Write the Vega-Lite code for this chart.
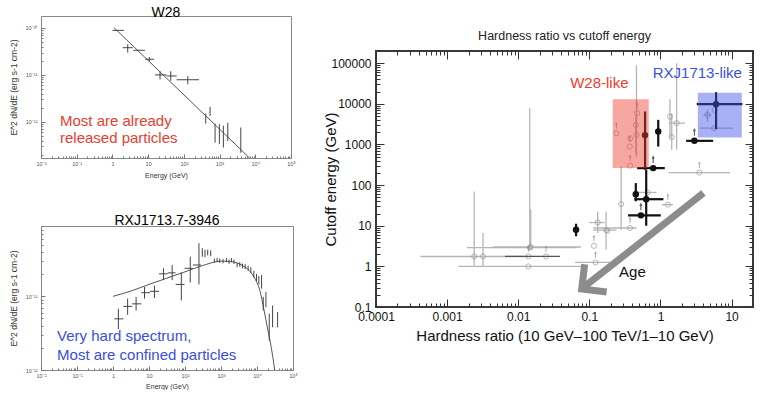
{
  "$schema": "https://vega.github.io/schema/vega-lite/v6.json",
  "background": "white",
  "padding": {"left": 8, "top": 5, "right": 0, "bottom": 0},
  "config": {"font": "Liberation Sans", "title": {"font": "Liberation Sans"}, "axis": {"labelFont": "Liberation Sans", "titleFont": "Liberation Sans"}},
  "datasets": {
    "w28": [
      {"E": 1.37, "F": 8.9e-11, "Elo": 1.0, "Ehi": 2.1},
      {"E": 2.68, "F": 3.8e-11, "Elo": 1.94, "Ehi": 3.7, "Flo": 3.0e-11, "Fhi": 4.5e-11},
      {"E": 5.7, "F": 3.35e-11, "Elo": 3.85, "Ehi": 8.2},
      {"E": 10.8, "F": 2.16e-11, "Elo": 8.2, "Ehi": 14.6, "Flo": 1.95e-11, "Fhi": 2.4e-11},
      {"E": 21.5, "F": 1.0e-11, "Elo": 15.6, "Ehi": 33, "Flo": 8.0e-12, "Fhi": 1.2e-11},
      {"E": 43, "F": 9.5e-12, "Elo": 33, "Ehi": 63, "Flo": 7.5e-12, "Fhi": 1.2e-11},
      {"E": 129, "F": 7.9e-12, "Elo": 63, "Ehi": 265, "Flo": 6.3e-12, "Fhi": 9.4e-12},
      {"E": 410, "F": 1.17e-12, "Flo": 9.2e-13, "Fhi": 1.5e-12},
      {"E": 542, "F": 1.67e-12, "Flo": 1.34e-12, "Fhi": 2.08e-12},
      {"E": 748, "F": 5.8e-13, "Flo": 3.6e-13, "Fhi": 9.2e-13},
      {"E": 988, "F": 5.5e-13, "Flo": 3.4e-13, "Fhi": 8.9e-13},
      {"E": 1277, "F": 4.9e-13, "Flo": 2.84e-13, "Fhi": 8.3e-13},
      {"E": 1700, "F": 6.1e-13, "Flo": 3.9e-13, "Fhi": 9.6e-13},
      {"E": 3930, "F": 4.1e-13, "Flo": 2.2e-13, "Fhi": 7.6e-13}
    ],
    "w28fit": [{"E": 1.1, "F": 1.02e-10}, {"E": 7150, "F": 1.66e-13}],
    "w28txt": [{"E": 0.034, "F": 1.05e-12, "t": "Most are already"}, {"E": 0.034, "F": 4.57e-13, "t": "released particles"}],
    "rxj": [
      {"E": 1.41, "F": 4.95e-12, "Elo": 1.09, "Ehi": 1.94, "Flo": 3.6e-12, "Fhi": 6.8e-12},
      {"E": 2.55, "F": 7.3e-12, "Elo": 1.94, "Ehi": 3.4, "Flo": 5.6e-12, "Fhi": 9.3e-12},
      {"E": 4.38, "F": 7.9e-12, "Elo": 3.4, "Ehi": 6.2, "Flo": 6.4e-12, "Fhi": 9.8e-12},
      {"E": 7.5, "F": 1.12e-11, "Elo": 6.2, "Ehi": 10.7, "Flo": 9.3e-12, "Fhi": 1.34e-11},
      {"E": 14.2, "F": 1.17e-11, "Elo": 10.7, "Ehi": 19, "Flo": 9.5e-12, "Fhi": 1.4e-11},
      {"E": 25.3, "F": 2.02e-11, "Elo": 19, "Ehi": 33, "Flo": 1.66e-11, "Fhi": 2.4e-11},
      {"E": 44, "F": 2.08e-11, "Elo": 33, "Ehi": 55, "Flo": 1.66e-11, "Fhi": 2.66e-11},
      {"E": 79, "F": 1.45e-11, "Elo": 55, "Ehi": 97, "Flo": 8.8e-12, "Fhi": 2.1e-11},
      {"E": 140, "F": 2.4e-11, "Elo": 97, "Ehi": 165, "Flo": 1.54e-11, "Fhi": 3.45e-11},
      {"E": 244, "F": 2.66e-11, "Elo": 165, "Ehi": 280, "Flo": 1.45e-11, "Fhi": 5.26e-11},
      {"E": 303, "F": 3.95e-11, "Flo": 3.45e-11, "Fhi": 4.5e-11},
      {"E": 359, "F": 3.8e-11, "Flo": 3.4e-11, "Fhi": 4.3e-11},
      {"E": 427, "F": 3.95e-11, "Flo": 3.6e-11, "Fhi": 4.3e-11},
      {"E": 517, "F": 3.85e-11, "Flo": 3.5e-11, "Fhi": 4.2e-11},
      {"E": 655, "F": 3.05e-11, "Flo": 2.85e-11, "Fhi": 3.25e-11},
      {"E": 776, "F": 3.1e-11, "Flo": 2.9e-11, "Fhi": 3.3e-11},
      {"E": 921, "F": 3.05e-11, "Flo": 2.85e-11, "Fhi": 3.25e-11},
      {"E": 1140, "F": 3.0e-11, "Flo": 2.8e-11, "Fhi": 3.2e-11},
      {"E": 1416, "F": 3.1e-11, "Flo": 2.9e-11, "Fhi": 3.3e-11},
      {"E": 1675, "F": 2.95e-11, "Flo": 2.75e-11, "Fhi": 3.15e-11},
      {"E": 1950, "F": 3.1e-11, "Flo": 2.9e-11, "Fhi": 3.3e-11},
      {"E": 2300, "F": 2.95e-11, "Flo": 2.75e-11, "Fhi": 3.15e-11},
      {"E": 2800, "F": 2.66e-11, "Flo": 2.48e-11, "Fhi": 2.85e-11},
      {"E": 3325, "F": 2.7e-11, "Flo": 2.52e-11, "Fhi": 2.9e-11},
      {"E": 3950, "F": 2.58e-11, "Flo": 2.4e-11, "Fhi": 2.78e-11},
      {"E": 4680, "F": 2.52e-11, "Flo": 2.34e-11, "Fhi": 2.72e-11},
      {"E": 5670, "F": 2.4e-11, "Flo": 2.22e-11, "Fhi": 2.6e-11},
      {"E": 6750, "F": 2.27e-11, "Flo": 2.08e-11, "Fhi": 2.48e-11},
      {"E": 8170, "F": 2.0e-11, "Flo": 1.8e-11, "Fhi": 2.22e-11},
      {"E": 9720, "F": 1.8e-11, "Flo": 1.6e-11, "Fhi": 2.02e-11},
      {"E": 11270, "F": 1.66e-11, "Flo": 1.46e-11, "Fhi": 1.88e-11},
      {"E": 13400, "F": 1.57e-11, "Flo": 1.27e-11, "Fhi": 1.94e-11},
      {"E": 14900, "F": 8.0e-12, "Flo": 6.4e-12, "Fhi": 9.8e-12},
      {"E": 17700, "F": 9.3e-12, "Flo": 7.1e-12, "Fhi": 1.15e-11},
      {"E": 21900, "F": 3.8e-12, "Flo": 2.5e-12, "Fhi": 5.8e-12},
      {"E": 27100, "F": 5.3e-12, "Flo": 3.8e-12, "Fhi": 7.5e-12},
      {"E": 37400, "F": 4.8e-12, "Flo": 3.8e-12, "Fhi": 6.1e-12}
    ],
    "rxjfit": [
      {"E": 1, "F": 1.0e-11}, {"E": 3, "F": 1.17e-11}, {"E": 10, "F": 1.45e-11}, {"E": 30, "F": 1.75e-11},
      {"E": 100, "F": 2.15e-11}, {"E": 300, "F": 2.6e-11}, {"E": 1000, "F": 3.0e-11}, {"E": 2000, "F": 2.95e-11},
      {"E": 4000, "F": 2.6e-11}, {"E": 6000, "F": 2.25e-11}, {"E": 9000, "F": 1.7e-11}, {"E": 12000, "F": 1.2e-11},
      {"E": 15700, "F": 6.5e-12}, {"E": 20000, "F": 3.5e-12}, {"E": 25000, "F": 2.0e-12}, {"E": 31000, "F": 1.0e-12}
    ],
    "rxjtxt": [{"E": 0.028, "F": 2.92e-12, "t": "Very hard spectrum,"}, {"E": 0.028, "F": 1.59e-12, "t": "Most are confined particles"}],
    "pts": [
      {"k": "b", "hr": 0.607, "ec": 1700, "ylo": 240, "yhi": 6500},
      {"k": "b", "hr": 0.63, "ec": 45, "xlo": 0.43, "xhi": 1.1, "ylo": 10, "yhi": 240},
      {"k": "b", "hr": 0.45, "ec": 60, "ylo": 40, "yhi": 112},
      {"k": "b", "hr": 0.065, "ec": 8, "ylo": 5.5, "yhi": 11.2},
      {"k": "b", "hr": 0.93, "ec": 2080, "ylo": 890, "yhi": 4040},
      {"k": "b", "hr": 0.79, "ec": 262, "xlo": 0.47, "xhi": 1.15, "lim": true},
      {"k": "b", "hr": 0.53, "ec": 18, "xlo": 0.35, "xhi": 1.01, "lim": true},
      {"k": "b", "hr": 3.0, "ec": 1230, "xlo": 2.3, "xhi": 5.5, "lim": true},
      {"k": "b", "hr": 6.05, "ec": 9800, "xlo": 3.24, "xhi": 14.2, "ylo": 2380, "yhi": 19400},
      {"k": "d", "hr": 0.0139, "ec": 1.76, "xlo": 0.0065, "xhi": 0.0385, "lim": true},
      {"k": "g", "hr": 0.0024, "ec": 1.75, "xlo": 0.00042, "xhi": 0.0139, "ylo": 1.05, "yhi": 70},
      {"k": "g", "hr": 0.0032, "ec": 1.75, "ylo": 1.0, "yhi": 6.6},
      {"k": "g", "hr": 0.0145, "ec": 2.9, "xlo": 0.0019, "xhi": 0.066, "ylo": 2.6, "yhi": 7800},
      {"k": "g", "hr": 0.015, "ec": 3.0, "xlo": 0.0044, "xhi": 0.076, "ylo": 2.6, "yhi": 25},
      {"k": "g", "hr": 0.0139, "ec": 1.0, "xlo": 0.00144, "xhi": 0.078},
      {"k": "g", "hr": 0.0246, "ec": 1.75, "lim": true},
      {"k": "g", "hr": 0.131, "ec": 12, "xlo": 0.1, "xhi": 0.165, "ylo": 6.6, "yhi": 22.5},
      {"k": "g", "hr": 0.172, "ec": 7.8, "xlo": 0.113, "xhi": 0.24, "ylo": 2.6, "yhi": 22},
      {"k": "g", "hr": 0.18, "ec": 7.5},
      {"k": "g", "hr": 0.116, "ec": 3.2, "lim": true},
      {"k": "g", "hr": 0.122, "ec": 1.25, "xlo": 0.063, "xhi": 0.195, "lim": true},
      {"k": "g", "hr": 0.28, "ec": 34, "ylo": 8, "yhi": 280},
      {"k": "g", "hr": 0.373, "ec": 8.8, "xlo": 0.113, "xhi": 0.46, "lim": true},
      {"k": "g", "hr": 0.66, "ec": 66, "xlo": 0.43, "xhi": 0.88},
      {"k": "g", "hr": 1.27, "ec": 33, "xlo": 1.05, "xhi": 1.5, "lim": true},
      {"k": "g", "hr": 3.52, "ec": 204, "xlo": 1.3, "xhi": 9.5, "lim": true},
      {"k": "g", "hr": 1.36, "ec": 4860, "ylo": 1430, "yhi": 12900},
      {"k": "g", "hr": 1.69, "ec": 3350, "xlo": 1.3, "xhi": 2.2, "ylo": 740, "yhi": 100000},
      {"k": "g", "hr": 1.44, "ec": 1510, "ylo": 740, "yhi": 5900},
      {"k": "g", "hr": 4.57, "ec": 5350, "xlo": 4.0, "xhi": 5.2, "ylo": 3680, "yhi": 7100},
      {"k": "g", "hr": 5.68, "ec": 2520, "xlo": 3.6, "xhi": 10.4},
      {"k": "g", "hr": 5.8, "ec": 7100},
      {"k": "g", "hr": 0.24, "ec": 1890, "lim": true},
      {"k": "g", "hr": 0.375, "ec": 1420},
      {"k": "g", "hr": 0.37, "ec": 890, "lim": true},
      {"k": "g", "hr": 0.375, "ec": 300, "lim": true},
      {"k": "g", "hr": 0.45, "ec": 3030, "ylo": 600, "yhi": 5000},
      {"k": "g", "hr": 0.47, "ec": 5900, "lim": true},
      {"k": "g", "hr": 0.46, "ec": 1720, "ylo": 500, "yhi": 90000}
    ],
    "boxes": [
      {"name": "W28-like", "x1": 0.213, "x2": 0.684, "y1": 262, "y2": 13000},
      {"name": "RXJ1713-like", "x1": 3.35, "x2": 13.9, "y1": 1480, "y2": 18900}
    ],
    "labels": [
      {"name": "W28-like", "hr": 0.138, "ec": 32200},
      {"name": "RXJ1713-like", "hr": 3.3, "ec": 56800},
      {"name": "Age", "hr": 0.403, "ec": 0.73}
    ],
    "agearrow": [
      {"seg": "shaft", "o": 1, "hr": 4.02, "ec": 63.6},
      {"seg": "shaft", "o": 2, "hr": 0.082, "ec": 0.3},
      {"seg": "head", "o": 1, "hr": 0.0859, "ec": 1.13},
      {"seg": "head", "o": 2, "hr": 0.0781, "ec": 0.277},
      {"seg": "head", "o": 3, "hr": 0.175, "ec": 0.235}
    ],
    "spacer": [{"v": 0}]
  },
  "spacing": 24,
  "hconcat": [
    {
      "spacing": 34,
      "vconcat": [
        {
          "title": {"text": "W28", "fontSize": 14, "fontWeight": "normal", "color": "#000", "offset": -4},
          "width": 250, "height": 142,
          "view": {"stroke": "#888", "strokeWidth": 1},
          "layer": [
            {"data": {"name": "w28fit"}, "mark": {"type": "line", "color": "#555", "strokeWidth": 1, "clip": true},
             "encoding": {
               "x": {"field": "E", "type": "quantitative", "title": "Energy (GeV)", "scale": {"type": "log", "domain": [0.01, 100000]},
                     "axis": {"values": [0.01,0.02,0.03,0.04,0.05,0.06,0.07,0.08,0.09,0.1,0.2,0.3,0.4,0.5,0.6,0.7,0.8,0.9,1,2,3,4,5,6,7,8,9,10,20,30,40,50,60,70,80,90,100,200,300,400,500,600,700,800,900,1000,2000,3000,4000,5000,6000,7000,8000,9000,10000,20000,30000,40000,50000,60000,70000,80000,90000,100000],
                              "labelExpr": "abs(log(datum.value)/LN10 - round(log(datum.value)/LN10)) > 0.01 ? '' : (round(log(datum.value)/LN10) == 0 ? '1' : round(log(datum.value)/LN10) == 1 ? '10' : '10' + (datum.value < 1 ? '⁻' : '') + (abs(round(log(datum.value)/LN10)) >= 10 ? '¹' : '') + substring('⁰¹²³⁴⁵⁶⁷⁸⁹', abs(round(log(datum.value)/LN10)) % 10, abs(round(log(datum.value)/LN10)) % 10 + 1))",
                              "labelFontSize": 5.5, "labelColor": "#555", "labelPadding": 7, "labelOverlap": false, "labelFlush": false,
                              "tickSize": {"condition": {"test": "abs(log(datum.value)/LN10 - round(log(datum.value)/LN10)) < 0.01", "value": -4}, "value": -2},
                              "tickColor": "#777", "domain": false, "grid": false, "titleFontSize": 7, "titleFontWeight": "normal", "titleColor": "#333", "titlePadding": 3}},
               "y": {"field": "F", "type": "quantitative", "title": "E^2 dN/dE (erg s-1 cm-2)", "scale": {"type": "log", "domain": [1.7e-13, 1.8e-10]},
                     "axis": {"values": [2e-13,3e-13,4e-13,5e-13,6e-13,7e-13,8e-13,9e-13,1e-12,2e-12,3e-12,4e-12,5e-12,6e-12,7e-12,8e-12,9e-12,1e-11,2e-11,3e-11,4e-11,5e-11,6e-11,7e-11,8e-11,9e-11,1e-10],
                              "labelExpr": "abs(log(datum.value)/LN10 - round(log(datum.value)/LN10)) > 0.01 ? '' : (round(log(datum.value)/LN10) == 0 ? '1' : round(log(datum.value)/LN10) == 1 ? '10' : '10' + (datum.value < 1 ? '⁻' : '') + (abs(round(log(datum.value)/LN10)) >= 10 ? '¹' : '') + substring('⁰¹²³⁴⁵⁶⁷⁸⁹', abs(round(log(datum.value)/LN10)) % 10, abs(round(log(datum.value)/LN10)) % 10 + 1))",
                              "labelFontSize": 5.5, "labelColor": "#555", "labelPadding": 8, "labelOverlap": false, "labelFlush": false,
                              "tickSize": {"condition": {"test": "abs(log(datum.value)/LN10 - round(log(datum.value)/LN10)) < 0.01", "value": -4}, "value": -2},
                              "tickColor": "#777", "domain": false, "grid": false, "titleFontSize": 8.5, "titleFontWeight": "normal", "titleColor": "#333", "titlePadding": 7}}
             }},
            {"data": {"name": "w28"}, "transform": [{"filter": "isValid(datum.Elo)"}], "mark": {"type": "rule", "color": "#444", "strokeWidth": 1},
             "encoding": {"x": {"field": "Elo", "type": "quantitative", "title": "Energy (GeV)", "scale": {"type": "log", "domain": [0.01, 100000]}}, "x2": {"field": "Ehi"},
                          "y": {"field": "F", "type": "quantitative", "title": "E^2 dN/dE (erg s-1 cm-2)", "scale": {"type": "log", "domain": [1.7e-13, 1.8e-10]}}}},
            {"data": {"name": "w28"}, "transform": [{"filter": "isValid(datum.Flo)"}], "mark": {"type": "rule", "color": "#444", "strokeWidth": 1},
             "encoding": {"x": {"field": "E", "type": "quantitative", "title": "Energy (GeV)", "scale": {"type": "log", "domain": [0.01, 100000]}},
                          "y": {"field": "Flo", "type": "quantitative", "title": "E^2 dN/dE (erg s-1 cm-2)", "scale": {"type": "log", "domain": [1.7e-13, 1.8e-10]}}, "y2": {"field": "Fhi"}}},
            {"data": {"name": "w28txt"}, "mark": {"type": "text", "align": "left", "baseline": "middle", "fontSize": 15, "color": "#e8402f"},
             "encoding": {"x": {"field": "E", "type": "quantitative", "title": "Energy (GeV)", "scale": {"type": "log", "domain": [0.01, 100000]}},
                          "y": {"field": "F", "type": "quantitative", "title": "E^2 dN/dE (erg s-1 cm-2)", "scale": {"type": "log", "domain": [1.7e-13, 1.8e-10]}},
                          "text": {"field": "t"}}}
          ]
        },
        {
          "title": {"text": "RXJ1713.7-3946", "fontSize": 14, "fontWeight": "normal", "color": "#000", "offset": -4},
          "width": 252, "height": 144,
          "view": {"stroke": "#888", "strokeWidth": 1},
          "layer": [
            {"data": {"name": "rxjfit"}, "mark": {"type": "line", "color": "#555", "strokeWidth": 1, "clip": true, "interpolate": "monotone"},
             "encoding": {
               "x": {"field": "E", "type": "quantitative", "title": "Energy (GeV)", "scale": {"type": "log", "domain": [0.01, 100000]},
                     "axis": {"values": [0.01,0.02,0.03,0.04,0.05,0.06,0.07,0.08,0.09,0.1,0.2,0.3,0.4,0.5,0.6,0.7,0.8,0.9,1,2,3,4,5,6,7,8,9,10,20,30,40,50,60,70,80,90,100,200,300,400,500,600,700,800,900,1000,2000,3000,4000,5000,6000,7000,8000,9000,10000,20000,30000,40000,50000,60000,70000,80000,90000,100000],
                              "labelExpr": "abs(log(datum.value)/LN10 - round(log(datum.value)/LN10)) > 0.01 ? '' : (round(log(datum.value)/LN10) == 0 ? '1' : round(log(datum.value)/LN10) == 1 ? '10' : '10' + (datum.value < 1 ? '⁻' : '') + (abs(round(log(datum.value)/LN10)) >= 10 ? '¹' : '') + substring('⁰¹²³⁴⁵⁶⁷⁸⁹', abs(round(log(datum.value)/LN10)) % 10, abs(round(log(datum.value)/LN10)) % 10 + 1))",
                              "labelFontSize": 5.5, "labelColor": "#555", "labelPadding": 7, "labelOverlap": false, "labelFlush": false,
                              "tickSize": {"condition": {"test": "abs(log(datum.value)/LN10 - round(log(datum.value)/LN10)) < 0.01", "value": -4}, "value": -2},
                              "tickColor": "#777", "domain": false, "grid": false, "titleFontSize": 7, "titleFontWeight": "normal", "titleColor": "#333", "titlePadding": 2}},
               "y": {"field": "F", "type": "quantitative", "title": "E^2 dN/dE (erg s-1 cm-2)", "scale": {"type": "log", "domain": [1e-12, 9e-11]},
                     "axis": {"values": [1e-12,2e-12,3e-12,4e-12,5e-12,6e-12,7e-12,8e-12,9e-12,1e-11,2e-11,3e-11,4e-11,5e-11,6e-11,7e-11,8e-11,9e-11],
                              "labelExpr": "abs(log(datum.value)/LN10 - round(log(datum.value)/LN10)) > 0.01 ? '' : (round(log(datum.value)/LN10) == 0 ? '1' : round(log(datum.value)/LN10) == 1 ? '10' : '10' + (datum.value < 1 ? '⁻' : '') + (abs(round(log(datum.value)/LN10)) >= 10 ? '¹' : '') + substring('⁰¹²³⁴⁵⁶⁷⁸⁹', abs(round(log(datum.value)/LN10)) % 10, abs(round(log(datum.value)/LN10)) % 10 + 1))",
                              "labelFontSize": 5.5, "labelColor": "#555", "labelPadding": 8, "labelOverlap": false, "labelFlush": false,
                              "tickSize": {"condition": {"test": "abs(log(datum.value)/LN10 - round(log(datum.value)/LN10)) < 0.01", "value": -4}, "value": -2},
                              "tickColor": "#777", "domain": false, "grid": false, "titleFontSize": 8.5, "titleFontWeight": "normal", "titleColor": "#333", "titlePadding": 7}}
             }},
            {"data": {"name": "rxj"}, "transform": [{"filter": "isValid(datum.Elo)"}], "mark": {"type": "rule", "color": "#444", "strokeWidth": 1},
             "encoding": {"x": {"field": "Elo", "type": "quantitative", "title": "Energy (GeV)", "scale": {"type": "log", "domain": [0.01, 100000]}}, "x2": {"field": "Ehi"},
                          "y": {"field": "F", "type": "quantitative", "title": "E^2 dN/dE (erg s-1 cm-2)", "scale": {"type": "log", "domain": [1e-12, 9e-11]}}}},
            {"data": {"name": "rxj"}, "transform": [{"filter": "isValid(datum.Flo)"}], "mark": {"type": "rule", "color": "#444", "strokeWidth": 1},
             "encoding": {"x": {"field": "E", "type": "quantitative", "title": "Energy (GeV)", "scale": {"type": "log", "domain": [0.01, 100000]}},
                          "y": {"field": "Flo", "type": "quantitative", "title": "E^2 dN/dE (erg s-1 cm-2)", "scale": {"type": "log", "domain": [1e-12, 9e-11]}}, "y2": {"field": "Fhi"}}},
            {"data": {"name": "rxjtxt"}, "mark": {"type": "text", "align": "left", "baseline": "middle", "fontSize": 15, "color": "#3a4de0"},
             "encoding": {"x": {"field": "E", "type": "quantitative", "title": "Energy (GeV)", "scale": {"type": "log", "domain": [0.01, 100000]}},
                          "y": {"field": "F", "type": "quantitative", "title": "E^2 dN/dE (erg s-1 cm-2)", "scale": {"type": "log", "domain": [1e-12, 9e-11]}},
                          "text": {"field": "t"}}}
          ]
        }
      ]
    },
    {
      "spacing": 8,
      "vconcat": [
        {"width": 377, "height": 1, "view": {"stroke": null}, "data": {"name": "spacer"}, "mark": {"type": "point", "opacity": 0}, "encoding": {}},
        {
          "title": {"text": "Hardness ratio vs cutoff energy", "fontSize": 12.5, "fontWeight": "normal", "color": "#222", "offset": 3, "anchor": "middle"},
          "width": 377, "height": 256,
          "view": {"stroke": "#3a3a3a", "strokeWidth": 2},
          "resolve": {"axis": {"x": "independent", "y": "independent"}},
          "layer": [
            {"data": {"name": "pts"}, "transform": [{"filter": "datum.k == 'g' && isValid(datum.xlo)"}], "mark": {"type": "rule", "color": "#b5b5b5", "strokeWidth": 1.3},
             "encoding": {
               "x": {"field": "xlo", "type": "quantitative", "scale": {"type": "log", "domain": [0.0001, 20]},
                     "axis": {"orient": "bottom", "values": [0.0001,0.0002,0.0003,0.0004,0.0005,0.0006,0.0007,0.0008,0.0009,0.001,0.002,0.003,0.004,0.005,0.006,0.007,0.008,0.009,0.01,0.02,0.03,0.04,0.05,0.06,0.07,0.08,0.09,0.1,0.2,0.3,0.4,0.5,0.6,0.7,0.8,0.9,1,2,3,4,5,6,7,8,9,10,20],
                              "labelExpr": "abs(log(datum.value)/LN10 - round(log(datum.value)/LN10)) < 0.01 ? format(datum.value, '~g') : ''",
                              "labelFontSize": 12, "labelColor": "#111", "labelPadding": 12, "labelOverlap": false, "labelFlush": false,
                              "tickSize": {"condition": {"test": "abs(log(datum.value)/LN10 - round(log(datum.value)/LN10)) < 0.01", "value": -8}, "value": -4},
                              "tickColor": "#333", "domain": false, "grid": false,
                              "title": "Hardness ratio (10 GeV–100 TeV/1–10 GeV)", "titleFontSize": 15, "titleFontWeight": "normal", "titleColor": "#111", "titlePadding": 2}},
               "x2": {"field": "xhi"},
               "y": {"field": "ec", "type": "quantitative", "scale": {"type": "log", "domain": [0.1, 200000]},
                     "axis": {"orient": "left", "values": [0.1,0.2,0.3,0.4,0.5,0.6,0.7,0.8,0.9,1,2,3,4,5,6,7,8,9,10,20,30,40,50,60,70,80,90,100,200,300,400,500,600,700,800,900,1000,2000,3000,4000,5000,6000,7000,8000,9000,10000,20000,30000,40000,50000,60000,70000,80000,90000,100000,200000],
                              "labelExpr": "abs(log(datum.value)/LN10 - round(log(datum.value)/LN10)) < 0.01 ? format(datum.value, '~g') : ''",
                              "labelFontSize": 12, "labelColor": "#111", "labelPadding": 13, "labelOverlap": false,
                              "tickSize": {"condition": {"test": "abs(log(datum.value)/LN10 - round(log(datum.value)/LN10)) < 0.01", "value": -8}, "value": -4},
                              "tickColor": "#333", "domain": false, "grid": false,
                              "title": "Cutoff energy (GeV)", "titleFontSize": 15, "titleFontWeight": "normal", "titleColor": "#111", "titlePadding": -8}}
             }},
            {"data": {"name": "pts"}, "transform": [{"filter": "datum.k == 'g' && isValid(datum.ylo)"}], "mark": {"type": "rule", "color": "#b5b5b5", "strokeWidth": 1.3},
             "encoding": {"x": {"field": "hr", "type": "quantitative", "scale": {"type": "log", "domain": [0.0001, 20]}, "axis": null},
                          "y": {"field": "ylo", "type": "quantitative", "scale": {"type": "log", "domain": [0.1, 200000]}, "axis": null}, "y2": {"field": "yhi"}}},
            {"data": {"name": "pts"}, "transform": [{"filter": "datum.k == 'g' || datum.k == 'd'"}], "mark": {"type": "point", "shape": "circle", "filled": false, "color": "#9a9a9a", "size": 26, "strokeWidth": 1},
             "encoding": {"x": {"field": "hr", "type": "quantitative", "scale": {"type": "log", "domain": [0.0001, 20]}, "axis": null},
                          "y": {"field": "ec", "type": "quantitative", "scale": {"type": "log", "domain": [0.1, 200000]}, "axis": null}}},
            {"data": {"name": "pts"}, "transform": [{"filter": "datum.k != 'b' && datum.lim == true"}], "mark": {"type": "point", "shape": "arrow", "filled": true, "color": "#888", "size": 45, "yOffset": -8},
             "encoding": {"x": {"field": "hr", "type": "quantitative", "scale": {"type": "log", "domain": [0.0001, 20]}, "axis": null},
                          "y": {"field": "ec", "type": "quantitative", "scale": {"type": "log", "domain": [0.1, 200000]}, "axis": null}}},
            {"data": {"name": "pts"}, "transform": [{"filter": "datum.k == 'd'"}], "mark": {"type": "rule", "color": "#555", "strokeWidth": 1.4},
             "encoding": {"x": {"field": "xlo", "type": "quantitative", "scale": {"type": "log", "domain": [0.0001, 20]}, "axis": null}, "x2": {"field": "xhi"},
                          "y": {"field": "ec", "type": "quantitative", "scale": {"type": "log", "domain": [0.1, 200000]}, "axis": null}}},
            {"data": {"name": "pts"}, "transform": [{"filter": "datum.k == 'b' && isValid(datum.xlo)"}], "mark": {"type": "rule", "color": "#111", "strokeWidth": 2.2},
             "encoding": {"x": {"field": "xlo", "type": "quantitative", "scale": {"type": "log", "domain": [0.0001, 20]}, "axis": null}, "x2": {"field": "xhi"},
                          "y": {"field": "ec", "type": "quantitative", "scale": {"type": "log", "domain": [0.1, 200000]}, "axis": null}}},
            {"data": {"name": "pts"}, "transform": [{"filter": "datum.k == 'b' && isValid(datum.ylo)"}], "mark": {"type": "rule", "color": "#111", "strokeWidth": 2.2},
             "encoding": {"x": {"field": "hr", "type": "quantitative", "scale": {"type": "log", "domain": [0.0001, 20]}, "axis": null},
                          "y": {"field": "ylo", "type": "quantitative", "scale": {"type": "log", "domain": [0.1, 200000]}, "axis": null}, "y2": {"field": "yhi"}}},
            {"data": {"name": "pts"}, "transform": [{"filter": "datum.k == 'b'"}], "mark": {"type": "point", "shape": "circle", "filled": true, "color": "#111", "size": 42, "opacity": 1},
             "encoding": {"x": {"field": "hr", "type": "quantitative", "scale": {"type": "log", "domain": [0.0001, 20]}, "axis": null},
                          "y": {"field": "ec", "type": "quantitative", "scale": {"type": "log", "domain": [0.1, 200000]}, "axis": null}}},
            {"data": {"name": "pts"}, "transform": [{"filter": "datum.k == 'b' && datum.lim == true"}], "mark": {"type": "point", "shape": "arrow", "filled": true, "color": "#111", "size": 60, "yOffset": -9},
             "encoding": {"x": {"field": "hr", "type": "quantitative", "scale": {"type": "log", "domain": [0.0001, 20]}, "axis": null},
                          "y": {"field": "ec", "type": "quantitative", "scale": {"type": "log", "domain": [0.1, 200000]}, "axis": null}}},
            {"data": {"name": "boxes"}, "mark": {"type": "rect", "opacity": 0.45},
             "encoding": {
               "x": {"field": "x1", "type": "quantitative", "scale": {"type": "log", "domain": [0.0001, 20]},
                     "axis": {"orient": "top", "values": [0.0001,0.0002,0.0003,0.0004,0.0005,0.0006,0.0007,0.0008,0.0009,0.001,0.002,0.003,0.004,0.005,0.006,0.007,0.008,0.009,0.01,0.02,0.03,0.04,0.05,0.06,0.07,0.08,0.09,0.1,0.2,0.3,0.4,0.5,0.6,0.7,0.8,0.9,1,2,3,4,5,6,7,8,9,10,20],
                              "labels": false, "title": null, "domain": false, "grid": false, "tickColor": "#333",
                              "tickSize": {"condition": {"test": "abs(log(datum.value)/LN10 - round(log(datum.value)/LN10)) < 0.01", "value": -8}, "value": -4}}},
               "x2": {"field": "x2"},
               "y": {"field": "y1", "type": "quantitative", "scale": {"type": "log", "domain": [0.1, 200000]},
                     "axis": {"orient": "right", "values": [0.1,0.2,0.3,0.4,0.5,0.6,0.7,0.8,0.9,1,2,3,4,5,6,7,8,9,10,20,30,40,50,60,70,80,90,100,200,300,400,500,600,700,800,900,1000,2000,3000,4000,5000,6000,7000,8000,9000,10000,20000,30000,40000,50000,60000,70000,80000,90000,100000,200000],
                              "labels": false, "title": null, "domain": false, "grid": false, "tickColor": "#333",
                              "tickSize": {"condition": {"test": "abs(log(datum.value)/LN10 - round(log(datum.value)/LN10)) < 0.01", "value": -8}, "value": -4}}},
               "y2": {"field": "y2"},
               "color": {"field": "name", "type": "nominal", "scale": {"domain": ["W28-like", "RXJ1713-like", "Age"], "range": ["#ee3b2b", "#3b52e6", "#111111"]}, "legend": null}
             }},
            {"data": {"name": "agearrow"}, "mark": {"type": "line", "color": "#8c8c8c", "strokeWidth": 7, "strokeCap": "butt", "strokeJoin": "miter"},
             "encoding": {"x": {"field": "hr", "type": "quantitative", "scale": {"type": "log", "domain": [0.0001, 20]}, "axis": null},
                          "y": {"field": "ec", "type": "quantitative", "scale": {"type": "log", "domain": [0.1, 200000]}, "axis": null},
                          "detail": {"field": "seg"}, "order": {"field": "o"}}},
            {"data": {"name": "labels"}, "mark": {"type": "text", "fontSize": 15, "align": "center", "baseline": "middle"},
             "encoding": {"x": {"field": "hr", "type": "quantitative", "scale": {"type": "log", "domain": [0.0001, 20]}, "axis": null},
                          "y": {"field": "ec", "type": "quantitative", "scale": {"type": "log", "domain": [0.1, 200000]}, "axis": null},
                          "text": {"field": "name"},
                          "color": {"field": "name", "type": "nominal", "scale": {"domain": ["W28-like", "RXJ1713-like", "Age"], "range": ["#ee3b2b", "#3b52e6", "#111111"]}, "legend": null}}}
          ]
        }
      ]
    }
  ]
}
